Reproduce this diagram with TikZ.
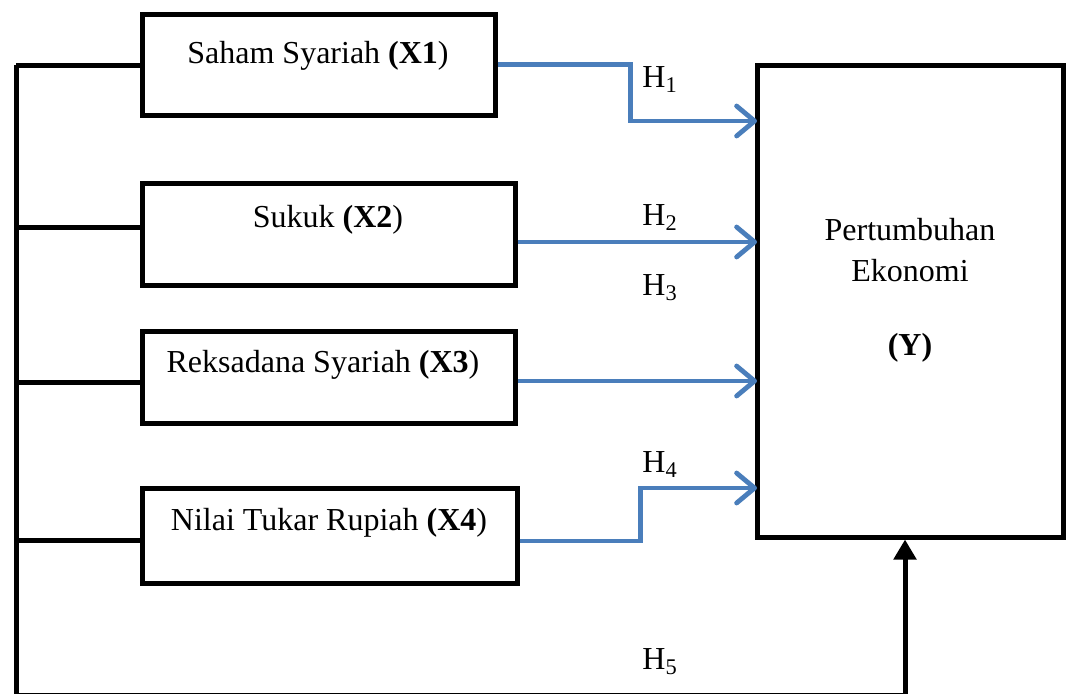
\documentclass[tikz,border=0pt]{standalone}
\usepackage{fontspec}
\setmainfont{Liberation Serif}
\usepackage{tikz}
\usetikzlibrary{arrows.meta}
\definecolor{hblue}{RGB}{74,126,187}

\begin{document}
\begin{tikzpicture}[x=0.5pt, y=-0.5pt, % one unit is one pixel of the sketch
	>={Straight Barb[length=9pt,width=15pt,line width=2.4pt,round]}, % open arrow head
	line join=miter,
	font=\fontsize{16}{20.5}\selectfont,
	var/.style={draw, rectangle, line width=2.5pt, inner sep=0pt}, % variable box
	txt/.style={inner sep=0pt, anchor=base},
	hyp/.style={hblue, line width=2.4pt, ->}, % hypothesis arrow
	bus/.style={black, line width=2.5pt},
	hlab/.style={inner sep=0pt, anchor=base west}]
	\useasboundingbox (0,0) rectangle (1070,693);

	% boxes
	\node[var, minimum width=176.5pt, minimum height=50.5pt] (x1) at (318.5,64.5) {};
	\node[var, minimum width=186.5pt, minimum height=51pt]   (x2) at (328.5,234) {};
	\node[var, minimum width=186.5pt, minimum height=46pt]   (x3) at (328.5,377) {};
	\node[var, minimum width=187.5pt, minimum height=47.5pt] (x4) at (329.5,535.5) {};
	\node[var, minimum width=153pt, minimum height=236pt]    (y)  at (910,301) {};

	\node[txt] (t1) at (318,63)  {Saham Syariah \textbf{(X1})};
	\node[txt] (t2) at (328,227) {Sukuk \textbf{(X2})};
	\node[txt] (t3) at (323,372) {Reksadana Syariah \textbf{(X3})};
	\node[txt] (t4) at (329,530) {Nilai Tukar Rupiah \textbf{(X4})};
	\node[inner sep=0pt, align=center] (ty) at (910,290)
		{Pertumbuhan\\Ekonomi\\[16.5pt]\textbf{(Y)}};

	% left bus
	\coordinate (b1) at (16,65);
	\coordinate (b2) at (16,227);
	\coordinate (b3) at (16,382);
	\coordinate (b4) at (16,540);
	\coordinate (b5) at (16,695);
	\coordinate (yin) at (905,695);

	\draw[bus, -{Triangle[length=10pt,width=11pt]}] (b1) -- (b5) -- (yin) -- (yin |- y.south);
	\draw[bus] (b1) -- (b1 -| x1.west);
	\draw[bus] (b2) -- (b2 -| x2.west);
	\draw[bus] (b3) -- (b3 -| x3.west);
	\draw[bus] (b4) -- (b4 -| x4.west);

	% hypotheses
	\coordinate (h1) at (757,121);
	\coordinate (h2) at (757,242);
	\coordinate (h3) at (757,381);
	\coordinate (h4) at (757,488);

	\draw[hyp] (x1.east) -- ++(133,0) |- (h1);
	\draw[hyp] (x2.east |- h2) -- (h2);
	\draw[hyp] (x3.east |- h3) -- (h3);
	\draw[hyp] ([yshift=-2.75pt]x4.east) -- ++(121,0) |- (h4);

	\node[hlab] (l1) at (642,87)  {H\textsubscript{1}};
	\node[hlab] (l2) at (642,225) {H\textsubscript{2}};
	\node[hlab] (l3) at (642,295) {H\textsubscript{3}};
	\node[hlab] (l4) at (642,472) {H\textsubscript{4}};
	\node[hlab] (l5) at (642,669) {H\textsubscript{5}};

\end{tikzpicture}
\end{document}
